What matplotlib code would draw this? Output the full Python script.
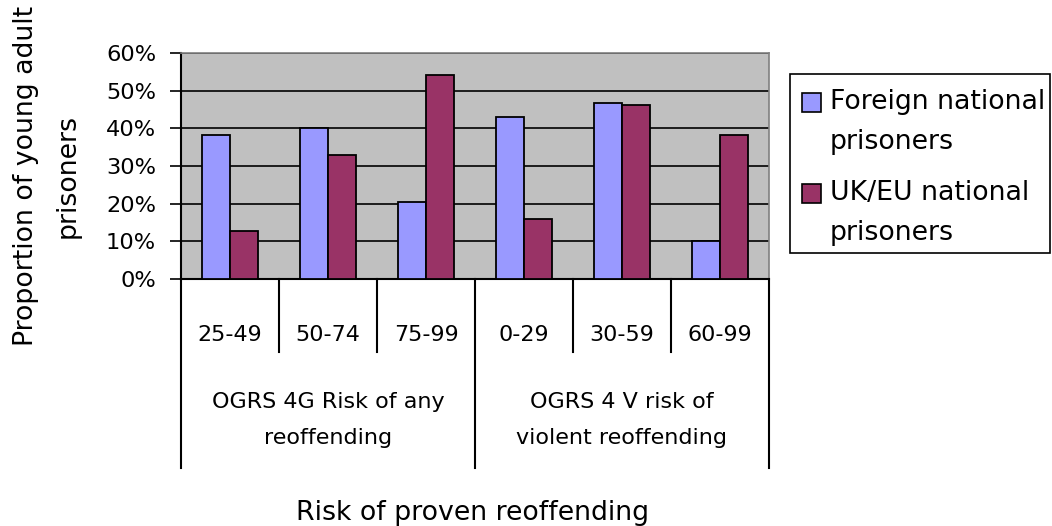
import matplotlib
matplotlib.use("Agg")
import matplotlib.pyplot as plt
import matplotlib.transforms as mtransforms
from matplotlib.patches import Rectangle
import numpy as np

# values (proportion of young adult prisoners, %)
bands = ["25-49", "50-74", "75-99", "0-29", "30-59", "60-99"]
groups = ["OGRS 4G Risk of any\nreoffending", "OGRS 4 V risk of\nviolent reoffending"]
group_sizes = [3, 3]
foreign = [38.1, 40.2, 20.5, 42.9, 46.7, 10.0]
uk_eu = [12.7, 32.8, 54.1, 15.9, 46.1, 38.1]
series_names = ["Foreign national\nprisoners", "UK/EU national\nprisoners"]
colors = ["#9999FF", "#993366"]

plt.rcParams["font.family"] = ["DejaVu Sans"]
fs_tick = 16.2
fs_cat = 16.0
fs_big = 19.3

W, H = 1052, 526
fig = plt.figure(figsize=(W / 100, H / 100), dpi=100)
ax = fig.add_axes([181 / W, 1 - 279 / H, 588 / W, 226 / H])
ax.set_facecolor("#C0C0C0")

x = np.arange(len(bands))
w = 1 / 3.5
ax.bar(x - w / 2, foreign, w, color=colors[0], edgecolor="black", linewidth=1.3, zorder=3)
ax.bar(x + w / 2, uk_eu, w, color=colors[1], edgecolor="black", linewidth=1.3, zorder=3)

ax.set_xlim(-0.5, len(bands) - 0.5)
ax.set_ylim(0, 60)
ax.set_yticks(np.arange(0, 61, 10))
ax.set_yticklabels([f"{v}%" for v in range(0, 61, 10)], fontsize=fs_tick)
ax.yaxis.grid(True, color="black", linewidth=1.2, zorder=1)
ax.set_axisbelow(True)
ax.tick_params(axis="y", direction="out", length=8, width=1.2, pad=10)
ax.set_xticks([])

for s in ["top", "right"]:
    ax.spines[s].set_color("#808080")
    ax.spines[s].set_linewidth(1.2)
for s in ["left", "bottom"]:
    ax.spines[s].set_color("black")
    ax.spines[s].set_linewidth(1.5)

# multi-level category axis
trans = mtransforms.blended_transform_factory(ax.transData, ax.transAxes)
px = 1 / 226  # one pixel in axes-height units
short_end = -73 * px
long_end = -189 * px
edges = np.arange(len(bands) + 1) - 0.5
group_edges = np.concatenate([[0], np.cumsum(group_sizes)])
for e in edges:
    idx = int(e + 0.5)
    end = long_end if idx in group_edges else short_end
    ax.plot([e, e], [0, end], color="black", linewidth=1.5, transform=trans, clip_on=False)
for i, b in enumerate(bands):
    ax.text(i, -56 * px, b, ha="center", va="center", fontsize=fs_cat, transform=trans)
for g, lab in enumerate(groups):
    mid = (group_edges[g] + group_edges[g + 1] - 1) / 2
    ax.text(mid, -141 * px, lab, ha="center", va="center", fontsize=fs_cat,
            linespacing=2.05, transform=trans)

fig.text(473 / W, 1 - 513 / H, "Risk of proven reoffending", ha="center", va="center",
         fontsize=fs_big)
fig.text(47 / W, 1 - 176 / H, "Proportion of young adult\nprisoners", ha="center",
         va="center", rotation=90, fontsize=fs_big, linespacing=1.78)

# legend drawn in pixel space so the swatch sits on the first label line
lax = fig.add_axes([0, 0, 1, 1], zorder=5)
lax.set_xlim(0, W)
lax.set_ylim(H, 0)
lax.axis("off")
lax.add_patch(Rectangle((790, 74), 260, 179, facecolor="white", edgecolor="black",
                        linewidth=1.2))
for k, (name, col) in enumerate(zip(series_names, colors)):
    yc = 102 + 91 * k
    lax.add_patch(Rectangle((802, yc - 9.5), 19, 19, facecolor=col, edgecolor="black",
                            linewidth=1.2))
    lines = name.split("\n")
    for j, line in enumerate(lines):
        lax.text(830, yc + 40 * j, line, ha="left", va="center", fontsize=fs_big)

fig.savefig("out.png", dpi=100)
